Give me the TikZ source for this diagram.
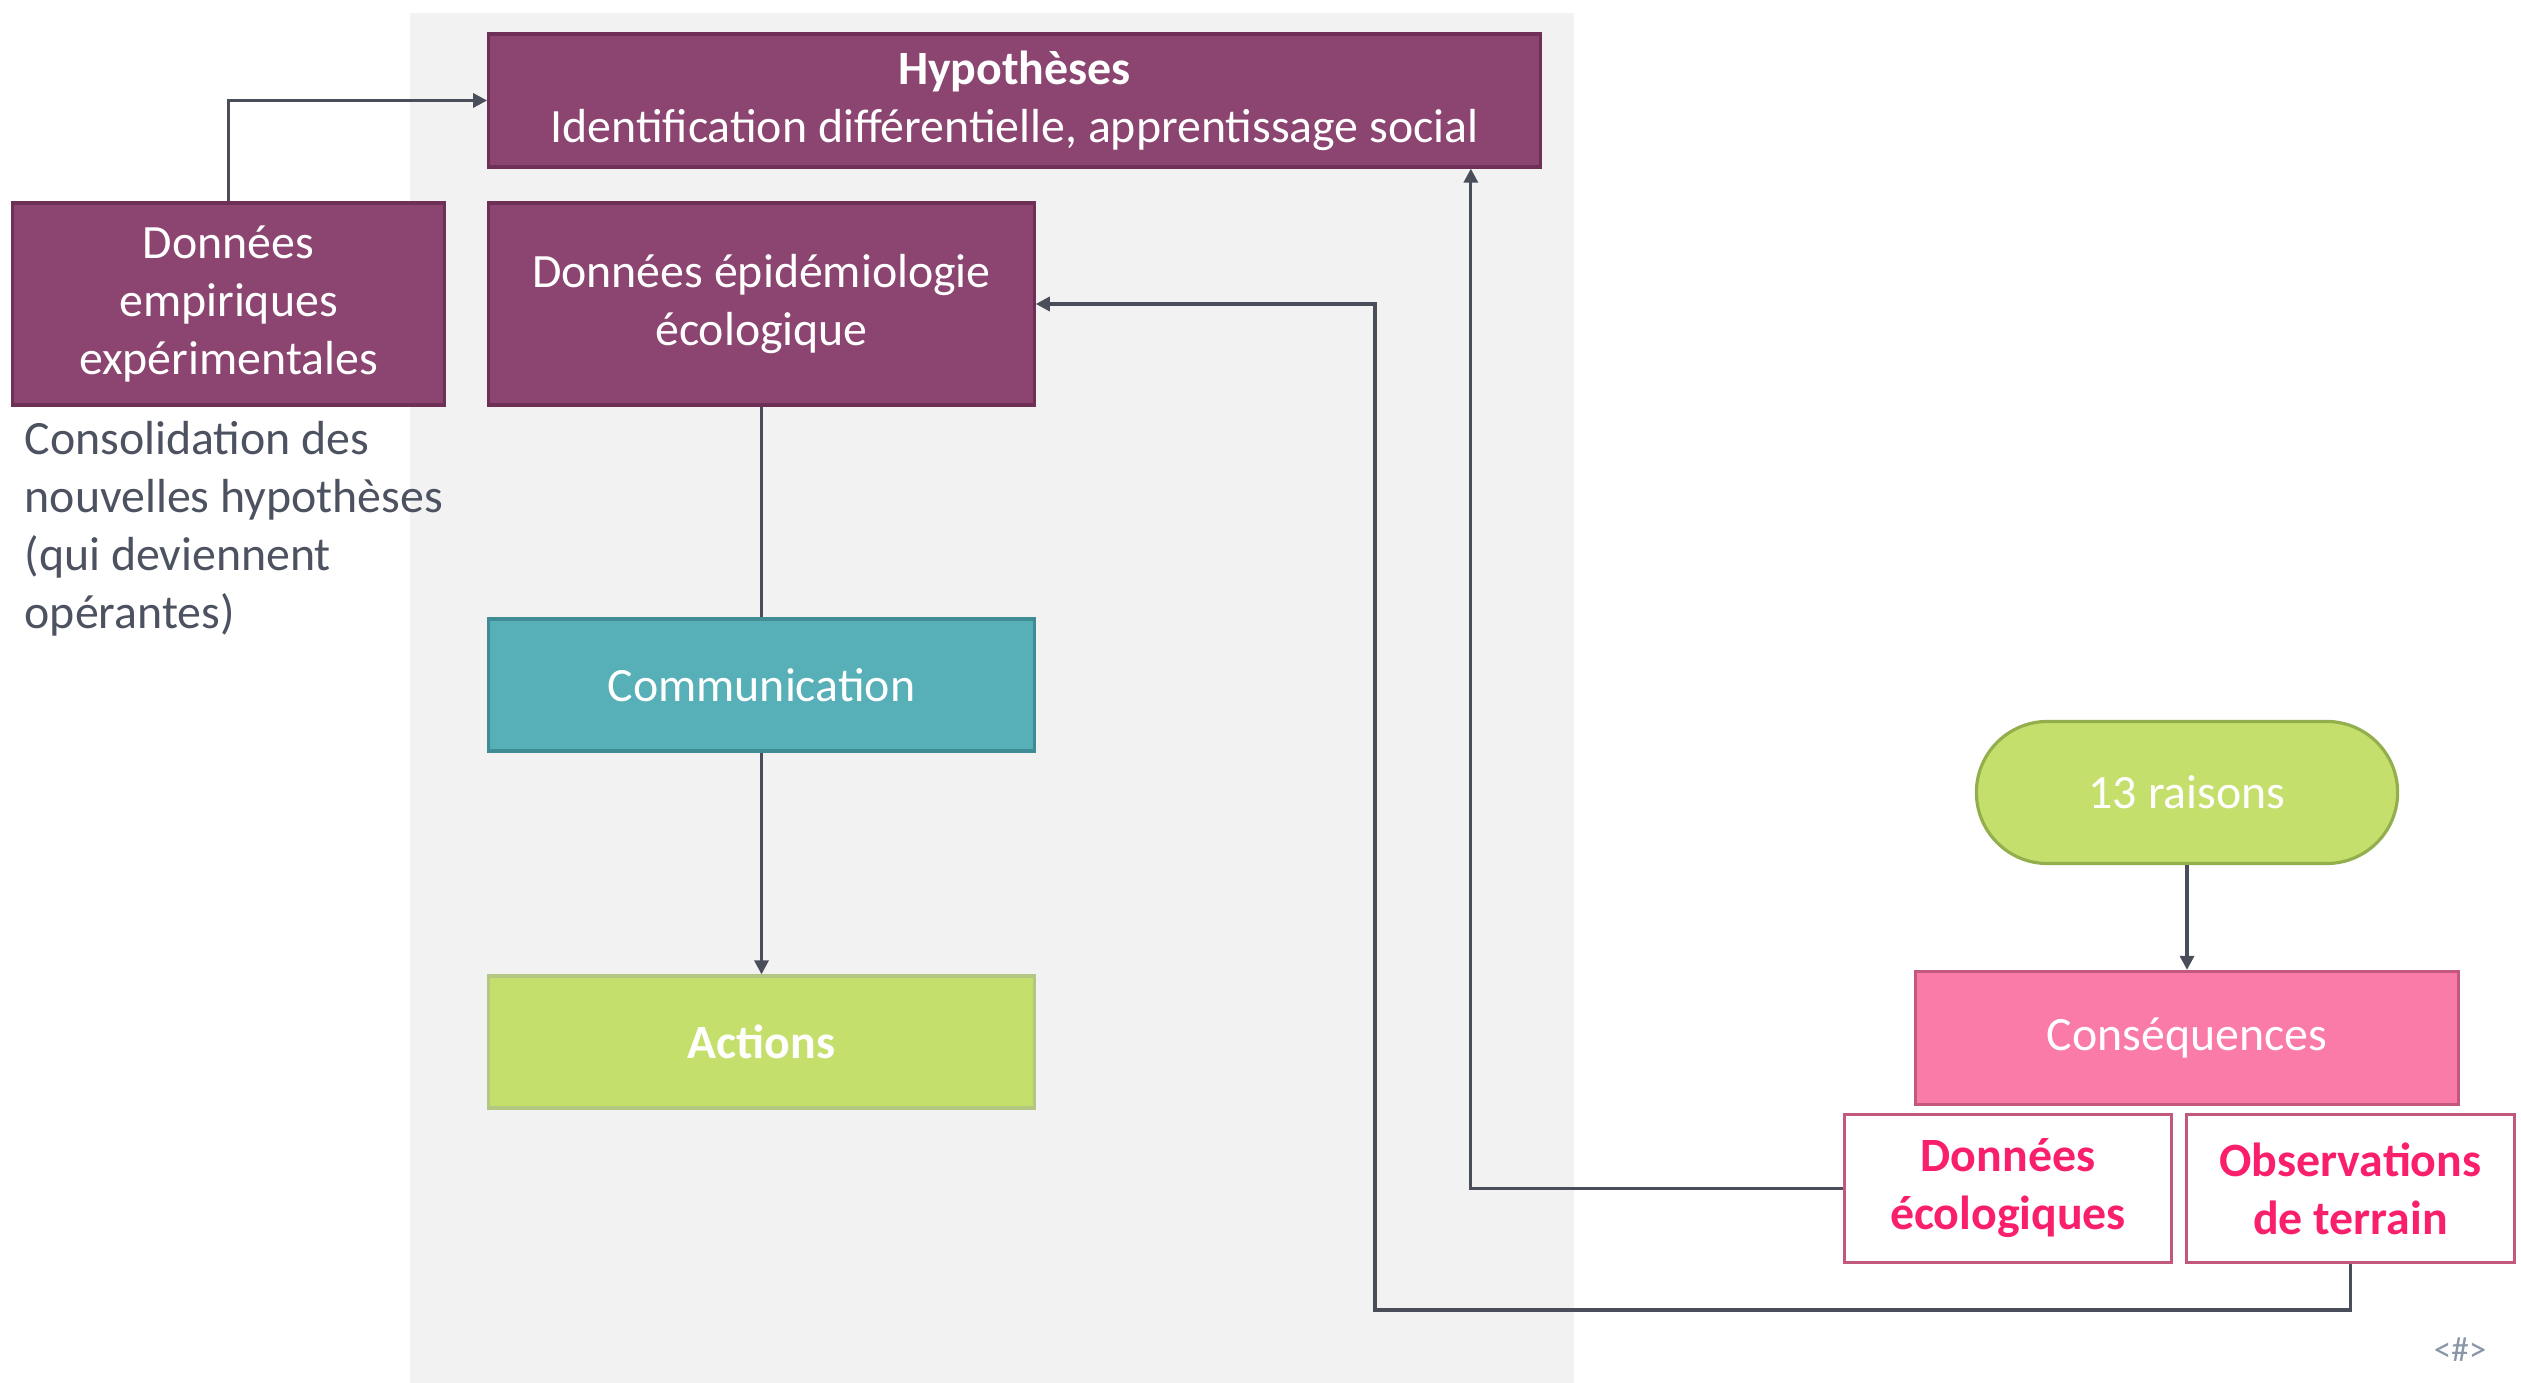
\documentclass[tikz,border=0pt]{standalone}
\usepackage{fontspec}
\setmainfont{Carlito}
\usepackage{tikz}
\usetikzlibrary{arrows.meta}

\definecolor{prune}{HTML}{8B4570}
\definecolor{prunebord}{HTML}{6E3057}
\definecolor{sarcelle}{HTML}{57AFB7}
\definecolor{sarcellebord}{HTML}{3F8C95}
\definecolor{anis}{HTML}{C5DF6D}
\definecolor{anisbord}{HTML}{93AE4C}
\definecolor{rose}{HTML}{FA7BA8}
\definecolor{rosebord}{HTML}{C3587F}
\definecolor{rosevif}{HTML}{FA1F6C}
\definecolor{trait}{HTML}{4A4E5A}
\definecolor{fondgris}{HTML}{F2F2F2}
\definecolor{texte}{HTML}{4D5261}
\definecolor{numgris}{HTML}{8A96A8}

\tikzset{
  boite/.style={draw, line width=0.9pt, inner sep=0pt, align=center, text=white,
    font=\fontsize{13.6}{16.5}\selectfont},
  boiteprune/.style={boite, fill=prune, draw=prunebord},
  lien/.style={draw=trait, line width=0.9pt},
  fleche/.style={lien, -{Triangle[length=4pt,width=4pt]}}
}

\begin{document}
\begin{tikzpicture}[x=0.01cm, y=-0.01cm]
\useasboundingbox (0,0) rectangle (2521,1383);
\fill[fondgris] (410,13) rectangle (1574,1383);

% colonne gauche
\node[boiteprune, minimum width=10.51cm, minimum height=1.33cm] (hyp) at (1014.5,100.5)
  {\textbf{Hypothèses}\\Identification différentielle, apprentissage social};
\node[boiteprune, minimum width=5.45cm, minimum height=2.02cm] (epi) at (761.5,304)
  {Données épidémiologie\\écologique};
\node[boiteprune, minimum width=4.31cm, minimum height=2.02cm] (emp) at (228.5,304)
  {Données\\empiriques\\expérimentales};
\node[boite, fill=sarcelle, draw=sarcellebord, minimum width=5.45cm, minimum height=1.32cm] (comm) at (761.5,685)
  {Communication};
\node[boite, fill=anis, draw=anisbord!70, minimum width=5.45cm, minimum height=1.32cm] (act) at (761.5,1042)
  {\textbf{Actions}};
\node[anchor=north west, align=left, inner sep=0pt, text=texte,
  font=\fontsize{13.6}{16.5}\selectfont] (conso) at (24,421)
  {Consolidation des\\nouvelles hypothèses\\(qui deviennent\\opérantes)};

% colonne droite
\node[boite, fill=anis, draw=anisbord, rounded corners=0.71cm, minimum width=4.21cm, minimum height=1.42cm] (raisons) at (2187,792.5)
  {13 raisons};
\node[boite, fill=rose, draw=rosebord, minimum width=5.43cm, minimum height=1.33cm] (cons) at (2187,1038)
  {Conséquences};
\node[boite, fill=white, draw=rosebord, text=rosevif, minimum width=3.27cm, minimum height=1.48cm] (eco) at (2008,1188.5)
  {\textbf{Données}\\\textbf{écologiques}};
\node[boite, fill=white, draw=rosebord, text=rosevif, minimum width=3.28cm, minimum height=1.48cm] (obs) at (2350.5,1188.5)
  {\textbf{Observations}\\\textbf{de terrain}};
\node[text=numgris, font=\fontsize{10}{11}\selectfont, inner sep=0pt] (num) at (2460,1350) {<\#>};

% liens
\coordinate (coinbas) at (1375,1310);
\draw[fleche] (emp.north) |- (hyp.west);
\draw[lien] (epi.south) -- (comm.north);
\draw[fleche] (comm.south) -- (act.north);
\draw[fleche] (raisons.south) -- (cons.north);
\draw[fleche] (eco.west) -| ([xshift=-0.71cm]hyp.south east);
\draw[fleche] (obs.south) |- (coinbas) |- (epi.east);
\end{tikzpicture}
\end{document}
